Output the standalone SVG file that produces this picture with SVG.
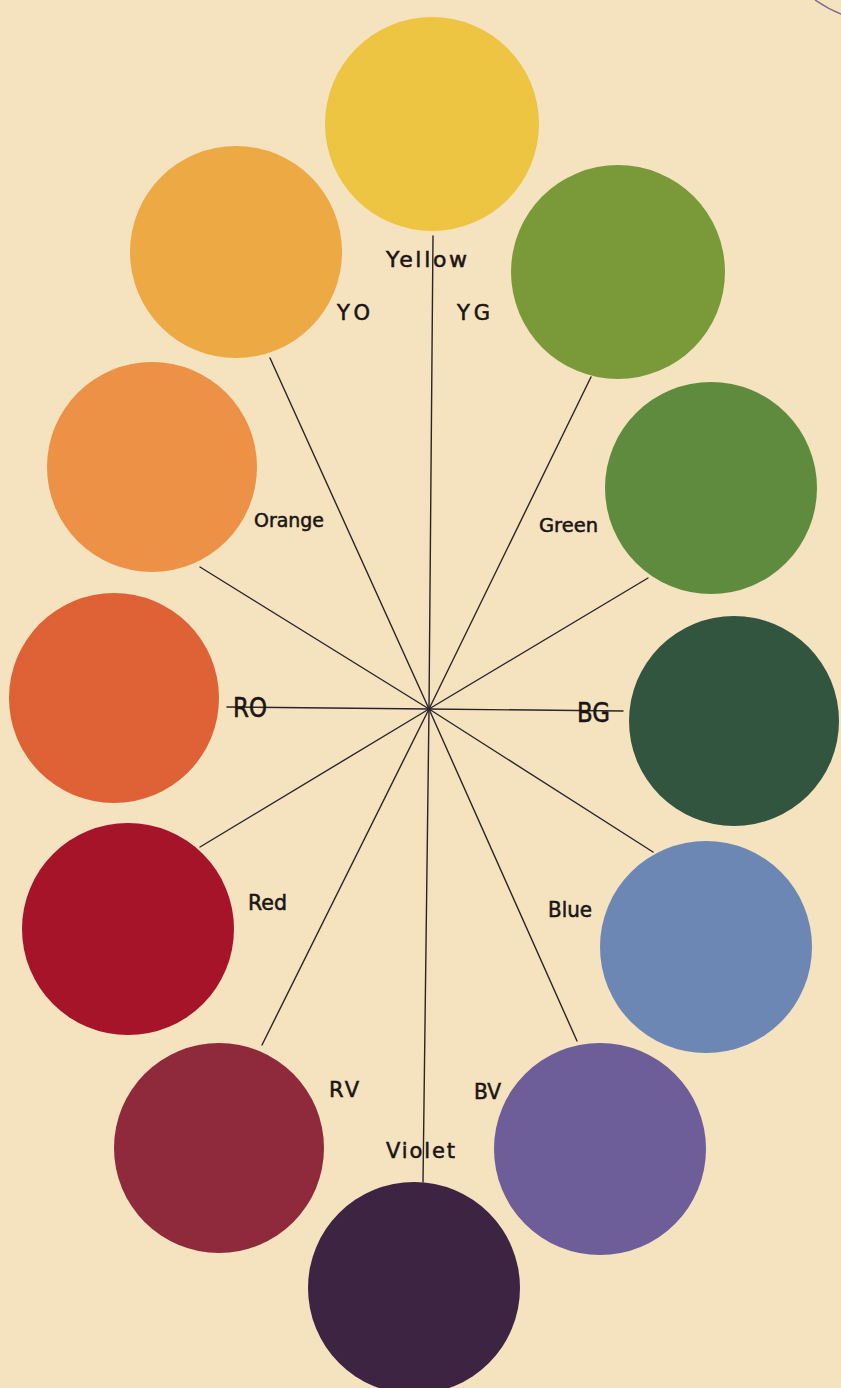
<svg xmlns="http://www.w3.org/2000/svg" width="841" height="1388" viewBox="0 0 841 1388">
<style>
.lbl{font-family:"DejaVu Sans","Liberation Sans",sans-serif;fill:#1b1514;stroke:#1b1514;stroke-width:0.55;}
.ln{stroke:#2b2429;stroke-width:1.4;fill:none;stroke-linecap:round;}
</style>
<rect x="0" y="0" width="841" height="1388" fill="#f5e3bf"/>
<path d="M815,0 Q828,9 841,14" stroke="#7d6c8c" stroke-width="1.5" fill="none"/>
<g id="connectors">
<line class="ln" x1="429" y1="709" x2="433" y2="236"/>
<line class="ln" x1="429" y1="709" x2="270" y2="358"/>
<line class="ln" x1="429" y1="709" x2="591" y2="377"/>
<line class="ln" x1="429" y1="709" x2="200" y2="567"/>
<line class="ln" x1="429" y1="709" x2="648" y2="578"/>
<line class="ln" x1="429" y1="709" x2="227" y2="707"/>
<line class="ln" x1="429" y1="709" x2="623" y2="711"/>
<line class="ln" x1="429" y1="709" x2="200" y2="847"/>
<line class="ln" x1="429" y1="709" x2="653" y2="852"/>
<line class="ln" x1="429" y1="709" x2="262" y2="1045"/>
<line class="ln" x1="429" y1="709" x2="577" y2="1041"/>
<line class="ln" x1="429" y1="709" x2="423" y2="1182"/>
<circle cx="429" cy="709" r="2" fill="#2b2429"/>
</g>
<g id="yellow"><circle cx="432" cy="124" r="107" fill="#eec443"/><text class="lbl" x="386" y="267" font-size="22" textLength="81">Yellow</text></g>
<g id="yo"><circle cx="236" cy="252" r="106" fill="#eda944"/><text class="lbl" x="337" y="320" font-size="21" textLength="33">YO</text></g>
<g id="yg"><circle cx="618" cy="272" r="107" fill="#7a9a3a"/><text class="lbl" x="457" y="320" font-size="21" textLength="33">YG</text></g>
<g id="orange"><circle cx="152" cy="467" r="105" fill="#ec9146"/><text class="lbl" x="254" y="527" font-size="19.5" textLength="70" lengthAdjust="spacingAndGlyphs">Orange</text></g>
<g id="green"><circle cx="711" cy="488" r="106" fill="#5f8b3f"/><text class="lbl" x="539" y="532" font-size="19.5" textLength="59" lengthAdjust="spacingAndGlyphs">Green</text></g>
<g id="ro"><circle cx="114" cy="698" r="105" fill="#df6236"/><text class="lbl" x="233" y="717" font-size="26" textLength="34" lengthAdjust="spacingAndGlyphs">RO</text></g>
<g id="bg"><circle cx="734" cy="721" r="105" fill="#31553f"/><text class="lbl" x="577" y="722" font-size="26" textLength="33" lengthAdjust="spacingAndGlyphs">BG</text></g>
<g id="red"><circle cx="128" cy="929" r="106" fill="#a6142a"/><text class="lbl" x="248" y="910" font-size="20.5" textLength="39" lengthAdjust="spacingAndGlyphs">Red</text></g>
<g id="blue"><circle cx="706" cy="947" r="106" fill="#6d87b5"/><text class="lbl" x="548" y="917" font-size="21" textLength="44" lengthAdjust="spacingAndGlyphs">Blue</text></g>
<g id="rv"><circle cx="219" cy="1148" r="105" fill="#8f2a3c"/><text class="lbl" x="329" y="1097" font-size="21" textLength="30">RV</text></g>
<g id="bv"><circle cx="600" cy="1149" r="106" fill="#6d5e9a"/><text class="lbl" x="474" y="1099" font-size="20.5" textLength="27" lengthAdjust="spacingAndGlyphs">BV</text></g>
<g id="violet"><circle cx="414" cy="1288" r="106" fill="#3e2443"/><text class="lbl" x="386" y="1158" font-size="21" textLength="69">Violet</text></g>
</svg>
